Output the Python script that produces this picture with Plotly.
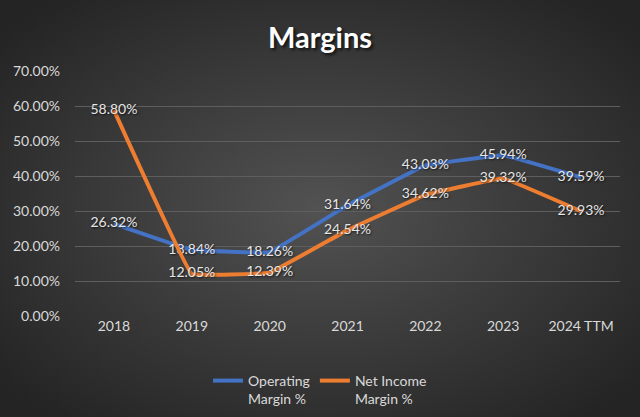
import base64
import plotly.graph_objects as go

categories = ["2018", "2019", "2020", "2021", "2022", "2023", "2024 TTM"]
operating_margin = [26.32, 18.84, 18.26, 31.64, 43.03, 45.94, 39.59]
net_income_margin = [58.80, 12.05, 12.39, 24.54, 34.62, 39.32, 29.93]
y_ticks = [0, 10, 20, 30, 40, 50, 60, 70]

W, H = 640, 417
L, R, T, B = 75, 20, 71, 101
pw, ph = W - L - R, H - T - B

svg = (
    "<svg xmlns='http://www.w3.org/2000/svg' width='640' height='417'>"
    "<defs><radialGradient id='g' cx='50%' cy='50%' r='65%'>"
    "<stop offset='0' stop-color='#525252'/>"
    "<stop offset='1' stop-color='#242424'/>"
    "</radialGradient></defs>"
    "<rect width='100%' height='100%' fill='url(#g)'/></svg>"
)
bg = "data:image/svg+xml;base64," + base64.b64encode(svg.encode()).decode()

label_font = dict(family="Lato, Open Sans, sans-serif", size=14, color="#e6e6e6",
                  shadow="1px 1px 2px rgba(0,0,0,0.7)")

fig = go.Figure()
fig.add_trace(go.Scatter(
    x=categories, y=operating_margin, name="Operating<br>Margin %",
    mode="lines+text", line=dict(color="#4472C4", width=4, shape="spline", smoothing=0.15),
    text=[f"{v:.2f}%" for v in operating_margin], textposition="middle center",
    textfont=label_font, hoverinfo="skip",
))
fig.add_trace(go.Scatter(
    x=categories, y=net_income_margin, name="Net Income<br>Margin %",
    mode="lines+text", line=dict(color="#ED7D31", width=4, shape="spline", smoothing=0.15),
    text=[f"{v:.2f}%" for v in net_income_margin], textposition="middle center",
    textfont=label_font, hoverinfo="skip",
))

fig.update_layout(
    width=W, height=H,
    margin=dict(l=L, r=R, t=T, b=B),
    paper_bgcolor="#3a3a3a", plot_bgcolor="rgba(0,0,0,0)",
    images=[dict(source=bg, xref="paper", yref="paper", x=-L / pw, y=1 + T / ph,
                 sizex=W / pw, sizey=H / ph, sizing="stretch", layer="below",
                 xanchor="left", yanchor="top")],
    title=dict(text="<b>Margins</b>", x=0.5, xref="container", xanchor="center",
               y=1 - 38 / H, yref="container", yanchor="middle",
               font=dict(family="Lato, Open Sans, sans-serif", size=29, color="#ffffff",
                         shadow="2px 2px 3px rgba(0,0,0,0.7)")),
    xaxis=dict(type="category", showgrid=False, showline=False, zeroline=False,
               ticks="", tickfont=dict(family="Lato, sans-serif", size=14, color="#d9d9d9"),
               range=[-0.5, len(categories) - 0.5]),
    yaxis=dict(range=[0, 70], tickvals=y_ticks, ticktext=[f"{v:.2f}%" for v in y_ticks],
               showgrid=True, gridcolor="#5e5e5e", gridwidth=1, zeroline=False,
               showline=False, ticks="", ticklabelstandoff=14,
               tickfont=dict(family="Lato, sans-serif", size=14, color="#d9d9d9")),
    legend=dict(orientation="h", x=0.5, xref="container", xanchor="center",
                y=1 - 365 / H, yref="container", yanchor="top", valign="top",
                font=dict(family="Lato, sans-serif", size=14, color="#d9d9d9"),
                bgcolor="rgba(0,0,0,0)", itemwidth=30, tracegroupgap=0),
    showlegend=True,
)
fig.update_xaxes(automargin=False)
fig.update_yaxes(automargin=False)
fig.write_html("out.html", config={"displayModeBar": False},
               post_script="document.body.style.margin='0';")
